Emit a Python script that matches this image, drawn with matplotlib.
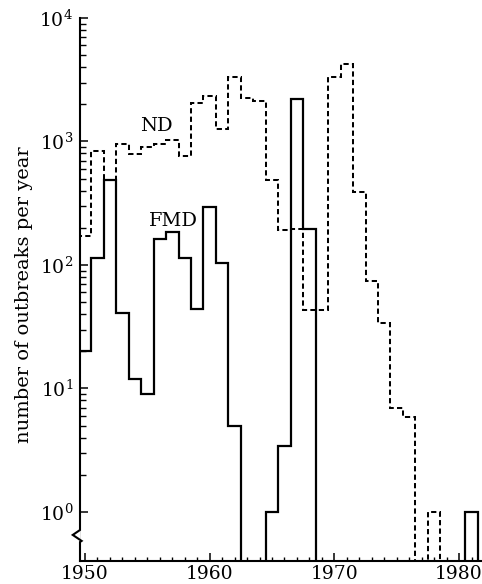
import numpy as np
import matplotlib
matplotlib.use("Agg")
import matplotlib.pyplot as plt
from matplotlib.ticker import FixedLocator, NullFormatter

# ---- data ----
years = list(range(1950, 1982))
fmd = [20, 113, 490, 41, 12, 9, 163, 184, 114, 44, 293, 104, 5, 0, 0, 1,
       3.4, 2200, 195, 0, 0, 0, 0, 0, 0, 0, 0, 0, 0, 0, 0, 1]
nd = [172, 842, 490, 955, 792, 897, 955, 1028, 763, 2061, 2335, 1256, 3311,
      2233, 2128, 488, 192, 195, 43, 43, 3311, 4220, 392, 74, 34, 6.9, 5.9,
      0, 1, 0, 0, 0]
x_major = [1950, 1960, 1970, 1980]
x_labels = ["1950", "1960", "1970", "1980"]
y_major = [1, 10, 100, 1000, 10000]
y_labels = [r"$10^0$", r"$10^1$", r"$10^2$", r"$10^3$", r"$10^4$"]
series_labels = ["ND", "FMD"]

plt.rcParams["font.family"] = ["DejaVu Serif"]
plt.rcParams["mathtext.fontset"] = "dejavuserif"

fig = plt.figure(figsize=(4.82, 5.84), dpi=100)
ax = fig.add_axes([80 / 482, 23 / 584, 402 / 482, 543 / 584])

edges = np.array(years + [years[-1] + 1]) - 0.5
floor = 1e-3
fmd_v = np.where(np.array(fmd) > 0, fmd, floor)
nd_v = np.where(np.array(nd) > 0, nd, floor)

ax.stairs(nd_v, edges, baseline=floor, color="black", lw=1.45,
          linestyle=(0, (2.6, 1.6)))
ax.stairs(fmd_v, edges, baseline=floor, color="black", lw=1.6)

ax.set_yscale("log")
ax.set_xlim(1949.6, 1981.84)
ax.set_ylim(10 ** -0.397, 1e4)

ax.yaxis.set_major_locator(FixedLocator(y_major))
ax.set_yticklabels(y_labels)
minor_y = [m * 10 ** e for e in range(0, 4) for m in range(2, 10)]
ax.yaxis.set_minor_locator(FixedLocator(minor_y))
ax.yaxis.set_minor_formatter(NullFormatter())

ax.set_xticks(x_major)
ax.set_xticklabels(x_labels)
ax.set_xticks(years, minor=True)

ax.tick_params(axis="both", which="major", direction="in", length=5.5,
               width=1.1, labelsize=13.5, color="black")
ax.tick_params(axis="both", which="minor", direction="in", length=4,
               width=1.0, color="black")
ax.tick_params(axis="x", which="minor", length=3.2)
ax.tick_params(axis="y", which="major", pad=5)
ax.tick_params(axis="x", which="major", pad=3)

for s in ["top", "right", "left"]:
    ax.spines[s].set_visible(False)
ax.spines["bottom"].set_linewidth(1.5)

# left axis line with break mark
ax.plot([0, 0, -0.018, 0.004, 0, 0], [1, 0.0571, 0.048, 0.037, 0.035, 0],
        transform=ax.transAxes, color="black", lw=1.5, clip_on=False,
        solid_joinstyle="miter")

ax.text(1955.7, 1340, series_labels[0], ha="center", va="center", fontsize=14)
ax.text(1957.1, 228, series_labels[1], ha="center", va="center", fontsize=14)

fig.text(24 / 482, 1 - 295 / 584, "number of outbreaks per year",
         rotation=90, ha="center", va="center", fontsize=14)

fig.savefig("out.png", dpi=100)
